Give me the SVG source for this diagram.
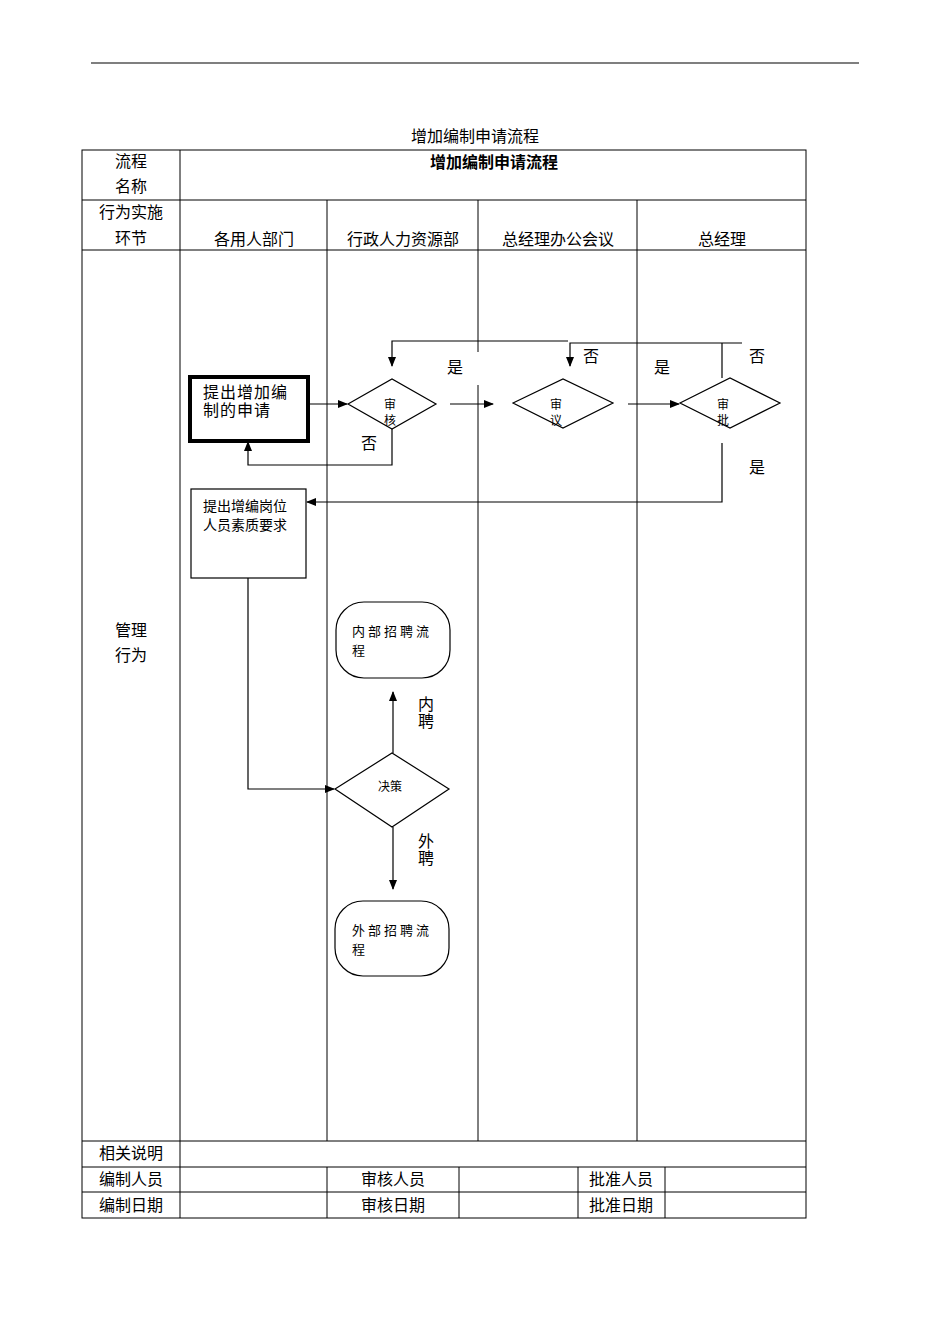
<svg xmlns="http://www.w3.org/2000/svg" width="950" height="1344" viewBox="0 0 950 1344">
<defs>
<marker id="ar" markerWidth="10" markerHeight="10" refX="9" refY="5" orient="auto" markerUnits="userSpaceOnUse"><path d="M0,1 L10,5 L0,9 Z" fill="#000"/></marker>
</defs>
<style>
text{font-family:"Liberation Serif","Noto Sans CJK SC",serif;fill:#000}
.t{font-size:16px;text-anchor:middle}
.s{font-size:12px;text-anchor:middle}
.g{stroke:#000;stroke-width:1;fill:none}
.n{stroke:#000;stroke-width:1.2;fill:#fff}
.c{stroke:#000;stroke-width:1.2;fill:none}
</style>
<rect width="950" height="1344" fill="#fff"/>
<line x1="91" y1="63" x2="859" y2="63" stroke="#000" stroke-width="1.2"/>
<text class="t" x="475" y="142">增加编制申请流程</text>
<g id="table" class="g">
<rect x="82" y="150" width="724" height="1068"/>
<line x1="82" y1="200" x2="806" y2="200"/>
<line x1="82" y1="250" x2="806" y2="250"/>
<line x1="82" y1="1141" x2="806" y2="1141"/>
<line x1="82" y1="1167" x2="806" y2="1167"/>
<line x1="82" y1="1192" x2="806" y2="1192"/>
<line x1="180" y1="150" x2="180" y2="1218"/>
<line x1="327" y1="200" x2="327" y2="1141"/>
<line x1="478" y1="200" x2="478" y2="352"/>
<line x1="478" y1="385" x2="478" y2="1141"/>
<line x1="637" y1="200" x2="637" y2="1141"/>
<line x1="327" y1="1167" x2="327" y2="1218"/>
<line x1="459" y1="1167" x2="459" y2="1218"/>
<line x1="578" y1="1167" x2="578" y2="1218"/>
<line x1="665" y1="1167" x2="665" y2="1218"/>
</g>
<g id="labels">
<text class="t" x="131" y="167">流程</text><text class="t" x="131" y="192">名称</text>
<text class="t" x="494" y="168" font-weight="bold" style="font-family:'Liberation Sans','Noto Sans CJK SC',sans-serif">增加编制申请流程</text>
<text class="t" x="131" y="218">行为实施</text><text class="t" x="131" y="244">环节</text>
<text class="t" x="254" y="245">各用人部门</text>
<text class="t" x="403" y="245">行政人力资源部</text>
<text class="t" x="558" y="245">总经理办公会议</text>
<text class="t" x="722" y="245">总经理</text>
<text class="t" x="131" y="636">管理</text><text class="t" x="131" y="661">行为</text>
<text class="t" x="131" y="1159">相关说明</text>
<text class="t" x="131" y="1185">编制人员</text><text class="t" x="393" y="1185">审核人员</text><text class="t" x="621" y="1185">批准人员</text>
<text class="t" x="131" y="1211">编制日期</text><text class="t" x="393" y="1211">审核日期</text><text class="t" x="621" y="1211">批准日期</text>
</g>
<g id="connectors" class="c">
<line x1="308" y1="404" x2="347" y2="404" marker-end="url(#ar)"/>
<polyline points="392,429 392,465 248,465 248,442" marker-end="url(#ar)"/>
<line x1="450" y1="404" x2="493" y2="404" marker-end="url(#ar)"/>
<line x1="628" y1="404" x2="679" y2="404" marker-end="url(#ar)"/>
<polyline points="568,341 392,341 392,366" marker-end="url(#ar)"/>
<polyline points="742,343 570,343 570,366" marker-end="url(#ar)"/>
<line x1="722" y1="343" x2="722" y2="378"/>
<polyline points="722,443 722,502 307,502" marker-end="url(#ar)"/>
<polyline points="248,578 248,789 334,789" marker-end="url(#ar)"/>
<line x1="393" y1="753" x2="393" y2="692" marker-end="url(#ar)"/>
<line x1="393" y1="827" x2="393" y2="889" marker-end="url(#ar)"/>
</g>
<g id="edge-labels">
<text class="t" x="455" y="373">是</text><text class="t" x="591" y="362">否</text>
<text class="t" x="662" y="373">是</text><text class="t" x="757" y="362">否</text>
<text class="t" x="369" y="449">否</text><text class="t" x="757" y="473">是</text>
<text class="t" x="426" y="710">内</text><text class="t" x="426" y="727">聘</text>
<text class="t" x="426" y="847">外</text><text class="t" x="426" y="864">聘</text>
</g>
<g id="n1"><rect x="190" y="377" width="118" height="64" fill="#fff" stroke="#000" stroke-width="4"/>
<text x="203" y="398" font-size="16" letter-spacing="1">提出增加编</text><text x="203" y="416" font-size="16" letter-spacing="1">制的申请</text></g>
<g id="n2"><polygon class="n" points="348,404 392,379 436,404 392,429"/><text class="s" x="390" y="409">审</text><text class="s" x="390" y="425">核</text></g>
<g id="n3"><polygon class="n" points="513,403 563,379 613,403 563,428"/><text class="s" x="556" y="409">审</text><text class="s" x="556" y="425">议</text></g>
<g id="n4"><polygon class="n" points="680,403 730,378 780,403 730,428"/><text class="s" x="723" y="409">审</text><text class="s" x="723" y="425">批</text></g>
<g id="n5"><rect class="n" x="191" y="489" width="115" height="89"/><text x="203" y="511" font-size="14">提出增编岗位</text><text x="203" y="530" font-size="14">人员素质要求</text></g>
<g id="n6"><rect class="n" x="336" y="602" width="114" height="76" rx="28"/><text x="352" y="636" font-size="13" letter-spacing="3">内部招聘流</text><text x="352" y="655" font-size="13">程</text></g>
<g id="n7"><polygon class="n" points="335,789 392,753 449,789 392,827"/><text class="s" x="390" y="791" font-size="13">决策</text></g>
<g id="n8"><rect class="n" x="335" y="901" width="114" height="75" rx="28"/><text x="352" y="935" font-size="13" letter-spacing="3">外部招聘流</text><text x="352" y="954" font-size="13">程</text></g>
</svg>
